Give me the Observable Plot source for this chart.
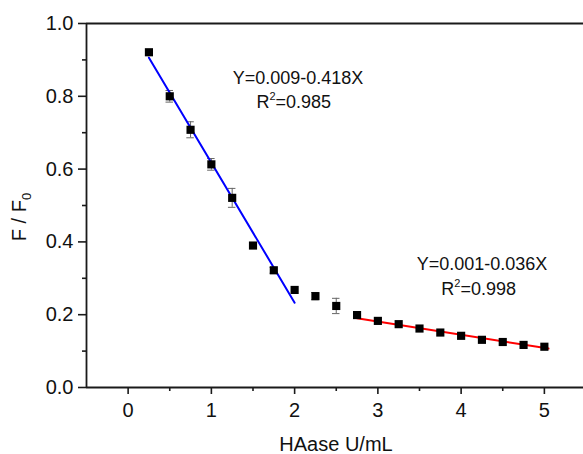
<!DOCTYPE html>
<html><head><meta charset="utf-8">
<script src="https://cdn.jsdelivr.net/npm/d3@7"></script>
<script src="https://cdn.jsdelivr.net/npm/@observablehq/plot@0.6"></script>
<style>
body{margin:0;background:#fff}
svg{font-family:"Liberation Sans",Arial,sans-serif}
</style>
</head><body><div id="chart"></div>
<script>
const conc  = [0.25,0.5,0.75,1.0,1.25,1.5,1.75,2.0,2.25,2.5,2.75,3.0,3.25,3.5,3.75,4.0,4.25,4.5,4.75,5.0];
const ratio = [0.921,0.800,0.708,0.613,0.521,0.390,0.322,0.268,0.251,0.224,0.199,0.183,0.174,0.162,0.151,0.142,0.131,0.125,0.117,0.112];
const err   = [0.004,0.016,0.022,0.016,0.026,0.005,0.008,0.006,0.010,0.021,0.005,0.005,0.005,0.005,0.005,0.005,0.004,0.004,0.004,0.004];
const fitBlueX = [0.25, 2.0];
const fitBlueY = [0.906, 0.233];
const fitRedX  = [2.75, 5.05];
const fitRedY  = [0.190, 0.107];
const xTicks = [0,1,2,3,4,5];
const xMinor = [0.5,1.5,2.5,3.5,4.5];
const yTicks = [0,0.2,0.4,0.6,0.8,1.0];
const yMinor = [0.1,0.3,0.5,0.7,0.9];
const eqText = ["Y=0.009-0.418X","R^2=0.985","Y=0.001-0.036X","R^2=0.998"];
const eqX = [2.04, 1.99, 4.25, 4.21];
const eqY = [0.851, 0.785, 0.338, 0.270];
const xLabel = "HAase U/mL";
const yLabelMain = "F / F";
const yLabelSub = "0";

const pts = conc.map((x,i)=>({x, y: ratio[i], e: err[i]}));
const blue = fitBlueX.map((x,i)=>({x, y: fitBlueY[i]}));
const red = fitRedX.map((x,i)=>({x, y: fitRedY[i]}));
const eqs = eqText.map((t,i)=>({t, x: eqX[i], y: eqY[i]}));
const bars = pts.filter(d=>d.e>0.006);
const axisColor = "#1a1a1a";

const chart = Plot.plot({
  width: 583, height: 454,
  marginLeft: 86, marginTop: 23, marginBottom: 67, marginRight: 0,
  style: {fontSize: "20px", color: "#111", background: "#fff"},
  x: {domain: [-0.5, 5.47]},
  y: {domain: [0, 1]},
  marks: [
    Plot.ruleX(bars, {x: "x", y1: d=>d.y-d.e, y2: d=>d.y+d.e, stroke: "#666", strokeWidth: 1}),
    Plot.ruleY(bars, {x1: d=>d.x-0.045, x2: d=>d.x+0.045, y: d=>d.y-d.e, stroke: "#666", strokeWidth: 1}),
    Plot.ruleY(bars, {x1: d=>d.x-0.045, x2: d=>d.x+0.045, y: d=>d.y+d.e, stroke: "#666", strokeWidth: 1}),
    Plot.line(blue, {x: "x", y: "y", stroke: "#0000ff", strokeWidth: 2}),
    Plot.line(red, {x: "x", y: "y", stroke: "#ff0000", strokeWidth: 2}),
    Plot.dot(pts, {x: "x", y: "y", symbol: "square", r: 4.6, fill: "#000", stroke: "none"}),
    Plot.text(eqs, {x: "x", y: "y", text: "t", fontSize: 18, fill: "#111", textAnchor: "middle", lineAnchor: "middle", className: "eq"}),
    Plot.axisX({ticks: xTicks, tickSize: 7, tickPadding: 8, tickFormat: d3.format("d"), label: null, stroke: axisColor, strokeWidth: 1.6}),
    Plot.axisX({ticks: xMinor, tickSize: 4, tickFormat: () => "", label: null, stroke: axisColor, strokeWidth: 1.6}),
    Plot.axisY({ticks: yTicks, tickSize: 8, tickPadding: 5, tickFormat: d3.format(".1f"), label: null, stroke: axisColor, strokeWidth: 1.6}),
    Plot.axisY({ticks: yMinor, tickSize: 4, tickFormat: () => "", label: null, stroke: axisColor, strokeWidth: 1.6}),
    Plot.ruleX([-0.5], {stroke: axisColor, strokeWidth: 1.8}),
    Plot.ruleY([0], {stroke: axisColor, strokeWidth: 1.8}),
    Plot.ruleY([1], {stroke: axisColor, strokeWidth: 1.8})
  ]
});

const svg = d3.select(chart);
// superscripts in the R^2 labels
svg.selectAll("g.eq text").each(function() {
  const el = d3.select(this);
  const s = el.text();
  if (s.includes("^")) {
    const [a, rest] = s.split("^");
    el.text(null);
    el.append("tspan").text(a);
    el.append("tspan").attr("font-size", 11).attr("dy", -8).text(rest[0]);
    el.append("tspan").attr("dy", 8).text(rest.slice(1));
  }
});
svg.append("text")
  .attr("x", 336).attr("y", 451)
  .attr("text-anchor", "middle")
  .attr("font-size", 20).attr("fill", "#111")
  .text(xLabel);
const yl = svg.append("text")
  .attr("transform", "translate(26,217) rotate(-90)")
  .attr("text-anchor", "middle")
  .attr("font-size", 20).attr("fill", "#111");
yl.append("tspan").text(yLabelMain);
yl.append("tspan").attr("font-size", 13).attr("dy", 5).text(yLabelSub);

document.getElementById("chart").appendChild(chart);
</script>
</body></html>
